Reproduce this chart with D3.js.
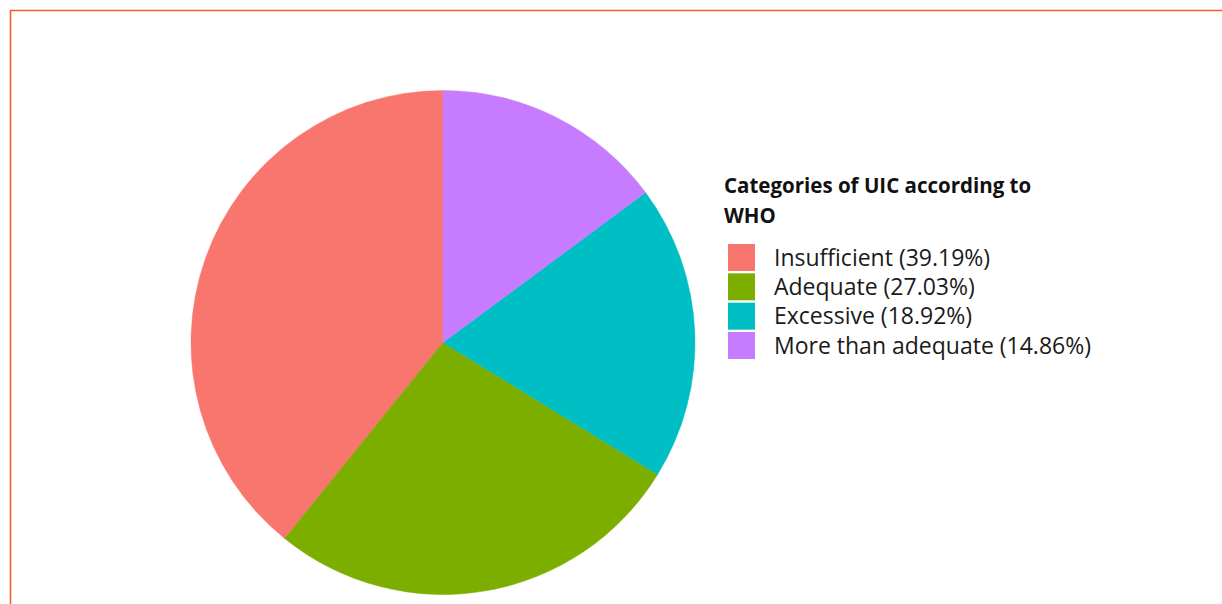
<!DOCTYPE html>
<html>
<head>
<meta charset="utf-8">
<script src="https://cdn.jsdelivr.net/npm/d3@7"></script>
<style>
  body { margin: 0; background: #fff; }
  svg { display: block; }
</style>
</head>
<body>
<div class="chart"></div>
<script>
// data
var categories = ["Insufficient", "Adequate", "Excessive", "More than adequate"];
var percents = [39.19, 27.03, 18.92, 14.86];
var colors = ["#F8766D", "#7CAE00", "#00BFC4", "#C77CFF"];
var legendTitle = ["Categories of UIC according to", "WHO"];

var svgWidth = 1222;
var svgHeight = 604;

var svg = d3.select(".chart")
  .append("svg")
  .attr("width", svgWidth)
  .attr("height", svgHeight);

// frame (top and left edges only)
svg.append("line")
  .attr("x1", 10).attr("y1", 10.5).attr("x2", svgWidth).attr("y2", 10.5)
  .attr("stroke", "#f4602a").attr("stroke-width", 1.6);
svg.append("line")
  .attr("x1", 10.5).attr("y1", 10).attr("x2", 10.5).attr("y2", svgHeight)
  .attr("stroke", "#f4602a").attr("stroke-width", 1.6);

var cx = 443, cy = 342.5, radius = 252;

var color = d3.scaleOrdinal().domain(categories).range(colors);

// counter-clockwise from 12 o'clock, like the original
var pie = d3.pie()
  .sort(null)
  .startAngle(0)
  .endAngle(-2 * Math.PI)
  .value(function(d) { return d.value; });

var arc = d3.arc().innerRadius(0).outerRadius(radius);

var pData = categories.map(function(c, i) {
  return { name: c, value: percents[i] };
});

var chart = svg.append("g")
  .attr("transform", "translate(" + cx + "," + cy + ")");

chart.selectAll("path")
  .data(pie(pData))
  .enter().append("path")
  .attr("d", arc)
  .attr("fill", function(d) { return color(d.data.name); })
  .attr("stroke", function(d) { return color(d.data.name); })
  .attr("stroke-width", 0.5);

// legend
var legend = svg.append("g").attr("transform", "translate(724,0)");

legend.selectAll(".title")
  .data(legendTitle)
  .enter().append("text")
  .attr("class", "title")
  .attr("x", 0)
  .attr("y", function(d, i) { return 193 + i * 30; })
  .style("font-family", "'Open Sans', sans-serif")
  .style("font-weight", "bold")
  .style("font-size", "20.5px")
  .attr("fill", "#111")
  .text(function(d) { return d; });

var keyY = d3.scaleBand()
  .domain(categories)
  .range([244, 359])
  .paddingInner(0.08);

var items = legend.selectAll(".item")
  .data(pData)
  .enter().append("g")
  .attr("class", "item")
  .attr("transform", function(d) { return "translate(0," + keyY(d.name) + ")"; });

items.append("rect")
  .attr("x", 4)
  .attr("width", 27)
  .attr("height", keyY.bandwidth())
  .attr("fill", function(d) { return color(d.name); });

items.append("text")
  .attr("x", 50)
  .attr("y", keyY.bandwidth() / 2)
  .attr("dy", "0.36em")
  .style("font-family", "'Open Sans', sans-serif")
  .style("font-size", "23px")
  .attr("fill", "#1a1a1a")
  .text(function(d) { return d.name + " (" + d.value.toFixed(2) + "%)"; });
</script>
</body>
</html>
